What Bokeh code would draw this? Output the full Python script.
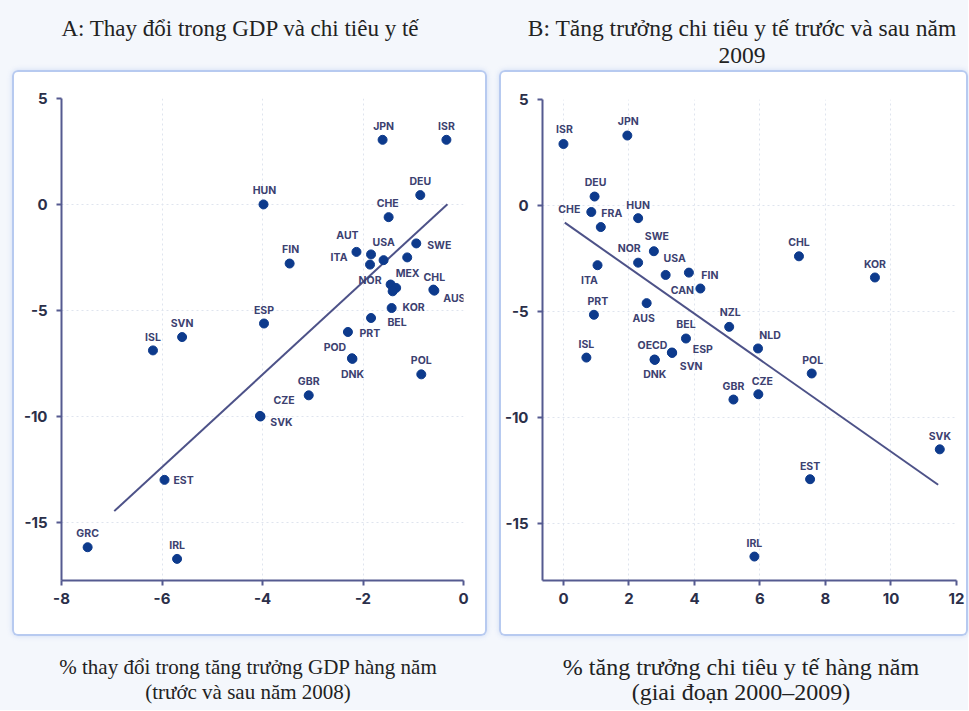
from bokeh.plotting import figure
from bokeh.models import ColumnDataSource, FixedTicker, Div
from bokeh.layouts import row, column
from bokeh.core.properties import value
from bokeh.embed import file_html
from bokeh.resources import INLINE

# ---------------- Panel A data ----------------
a_title = "A: Thay đổi trong GDP và chi tiêu y tế"
a_xlabel = "% thay đổi trong tăng trưởng GDP hàng năm<br>(trước và sau năm 2008)"
a_codes = ["JPN", "ISR", "DEU", "HUN", "CHE", "AUT", "ITA", "NOR", "USA", "",
           "SWE", "FIN", "MEX", "", "", "CHL", "AUS", "KOR", "BEL", "PRT",
           "ESP", "SVN", "ISL", "POD", "DNK", "POL", "GBR", "CZE", "SVK", "EST",
           "GRC", "IRL"]
a_x = [-1.61, -0.34, -0.86, -3.98, -1.49, -2.13, -1.84, -1.86, -1.59, -1.12,
       -0.94, -3.46, -1.45, -1.34, -1.41, -0.60, -0.58, -1.43, -1.84, -2.30,
       -3.97, -5.60, -6.18, -2.22, -2.21, -0.84, -3.08, -4.05, -4.04, -5.95,
       -7.48, -5.70]
a_y = [3.05, 3.05, 0.44, 0.0, -0.60, -2.24, -2.36, -2.84, -2.63, -2.50,
       -1.84, -2.79, -3.78, -3.94, -4.10, -4.02, -4.07, -4.89, -5.36, -6.02,
       -5.62, -6.26, -6.89, -7.26, -7.29, -8.02, -9.01, -9.98, -10.01, -13.0,
       -16.18, -16.73]
a_xticks = [-8, -6, -4, -2, 0]
a_yticks = [5, 0, -5, -10, -15]
a_fit_x = [-6.95, -0.32]
a_fit_slope = 2.185
a_fit_intercept = 0.71

# label offsets (screen px) for panel A
a_dx = [1, 0, 0, 1, -1, -9, -32, 0, 0, 0,
        23, 1, 17, 0, 0, 1, 20, 22, 26, 22,
        0, 0, 0, -17, 0, 0, 0, 24, 21, 19,
        0, 0]
a_dy = [-13, -13, -14, -14, -14, -16, 3, 16, -18, 0,
        2, -14, -11, 0, 0, -12, 8, -1, 5, 2,
        -13, -14, -13, -11, 16, -14, -14, -15, 6, 1,
        -14, -13]

# ---------------- Panel B data ----------------
b_title = "B: Tăng trưởng chi tiêu y tế trước và sau năm<br>2009"
b_xlabel = "% tăng trưởng chi tiêu y tế hàng năm<br>(giai đoạn 2000–2009)"
b_codes = ["ISR", "JPN", "DEU", "CHE", "FRA", "HUN", "SWE", "NOR", "USA", "FIN",
           "CAN", "ITA", "CHL", "KOR", "AUS", "PRT", "NZL", "BEL", "NLD", "ISL",
           "OECD", "DNK", "ESP", "SVN", "POL", "GBR", "CZE", "SVK", "EST", "IRL"]
b_x = [0.0, 1.95, 0.95, 0.85, 1.14, 2.28, 2.76, 2.28, 3.12, 3.83,
       4.18, 1.04, 7.19, 9.51, 2.54, 0.93, 5.06, 3.74, 5.94, 0.70,
       2.78, 2.79, 3.31, 3.32, 7.58, 5.19, 5.95, 11.49, 7.53, 5.83]
b_y = [2.9, 3.3, 0.42, -0.31, -1.02, -0.60, -2.16, -2.70, -3.28, -3.17,
       -3.92, -2.82, -2.40, -3.40, -4.61, -5.16, -5.73, -6.28, -6.75, -7.18,
       -7.27, -7.29, -6.94, -6.96, -7.93, -9.16, -8.91, -11.51, -12.92, -16.57]
b_xticks = [0, 2, 4, 6, 8, 10, 12]
b_yticks = [5, 0, -5, -10, -15]
b_fit_x = [0.04, 11.44]
b_fit_slope = -1.085
b_fit_intercept = -0.77

b_dx = [1, 1, 1, -22, 11, 0, 3, -9, 9, 21,
        -18, -8, 0, 0, -3, 4, 1, 0, 12, 0,
        -2, 0, 31, 19, 1, 0, 4, 0, 0, 0]
b_dy = [-14, -14, -14, -3, -14, -13, -15, -14, -16, 3,
        2, 15, -14, -13, 15, -13, -14, -14, -13, -13,
        -14, 15, -3, 14, -13, -13, -13, -13, -13, -13]

# ---------------- styles ----------------
PAGE_BG = "#f4f7fc"
BOX_LINE = "#b7caf0"
DOT = "#0d3a8c"
LABEL = "#3c4170"
AXIS = "#555a90"
TICK_TEXT = "#2b2f4a"
FIT = "#4d5288"
GRID = "#dfe4ee"


def make_panel(codes, xs, ys, dxs, dys, xr, yr, xticks, yticks,
               fit_x, slope, intercept, width, height, borders, margin):
    left, right, top, bottom = borders
    p = figure(width=width, height=height, x_range=xr, y_range=yr,
               output_backend="svg", toolbar_location=None,
               min_border_left=left, min_border_right=right,
               min_border_top=top, min_border_bottom=bottom,
               margin=margin,
               styles={"background-color": "white",
                       "border-radius": "6px",
                       "box-shadow": f"inset 0 0 0 2px {BOX_LINE}, 0 0 5px rgba(160,185,235,0.45)"})
    p.border_fill_color = None
    p.background_fill_color = "white"
    p.outline_line_color = None

    src = ColumnDataSource(dict(x=xs, y=ys, label=codes, dx=dxs, dy=dys))

    fy = [slope * v + intercept for v in fit_x]
    p.line(fit_x, fy, line_color=FIT, line_width=2)
    p.scatter("x", "y", source=src, size=9, fill_color=DOT, line_color=DOT)
    p.text("x", "y", text="label", source=src, x_offset="dx", y_offset="dy",
           text_align="center", text_baseline="middle",
           text_font=value("Inter"), text_font_style="bold",
           text_font_size="10.5px", text_color=LABEL)

    for ax, ticks in ((p.xaxis, xticks), (p.yaxis, yticks)):
        ax.ticker = FixedTicker(ticks=ticks)
        ax.major_label_overrides = {t: str(t) for t in ticks}
        ax.axis_line_color = AXIS
        ax.axis_line_width = 2
        ax.major_tick_line_color = AXIS
        ax.major_tick_line_width = 2
        ax.major_tick_out = 5
        ax.major_tick_in = 0
        ax.minor_tick_line_color = None
        ax.major_label_text_font = "Inter"
        ax.major_label_text_font_style = "bold"
        ax.major_label_text_font_size = "15px"
        ax.major_label_text_color = TICK_TEXT
    p.xaxis.major_label_standoff = 7
    p.yaxis.major_label_standoff = 9

    p.xgrid.ticker = FixedTicker(ticks=xticks)
    p.ygrid.ticker = FixedTicker(ticks=yticks)
    for g in (p.xgrid, p.ygrid):
        g.grid_line_color = GRID
        g.grid_line_dash = "2 3"
        g.grid_line_width = 1
    return p


def text_div(txt, width, height, pad_top, pad_left, pad_right, line_h, size):
    html = (f'<div style="box-sizing:border-box;width:{width}px;'
            f'padding-top:{pad_top}px;padding-left:{pad_left}px;'
            f'padding-right:{pad_right}px;line-height:{line_h}px;text-align:center;'
            f'font-family:\'Liberation Serif\',serif;font-size:{size}px;color:#222;">{txt}</div>')
    return Div(text=html, width=width, height=height, margin=0)


pA = make_panel(a_codes, a_x, a_y, a_dx, a_dy, (-8, 0), (-17.75, 5),
                a_xticks, a_yticks, a_fit_x, a_fit_slope, a_fit_intercept,
                475, 566, (49, 24, 28, 56), (0, 0, 0, 12))
pB = make_panel(b_codes, b_x, b_y, b_dx, b_dy, (-0.64, 12), (-17.7, 5),
                b_xticks, b_yticks, b_fit_x, b_fit_slope, b_fit_intercept,
                469, 566, (43, 12, 29, 56), (0, 0, 0, 12))

colA = column(text_div(a_title, 487, 70, 15, 0, 7, 27, 23), pA,
              text_div(a_xlabel, 487, 74, 19, 9, 0, 25, 21), spacing=0)
colB = column(text_div(b_title, 481, 70, 15, 29, 0, 27, 23.5), pB,
              text_div(b_xlabel, 481, 74, 19, 27, 0, 25, 24), spacing=0)
layout = row(colA, colB, spacing=0, styles={"background-color": PAGE_BG})

open("out.html", "w").write(file_html(layout, INLINE))
